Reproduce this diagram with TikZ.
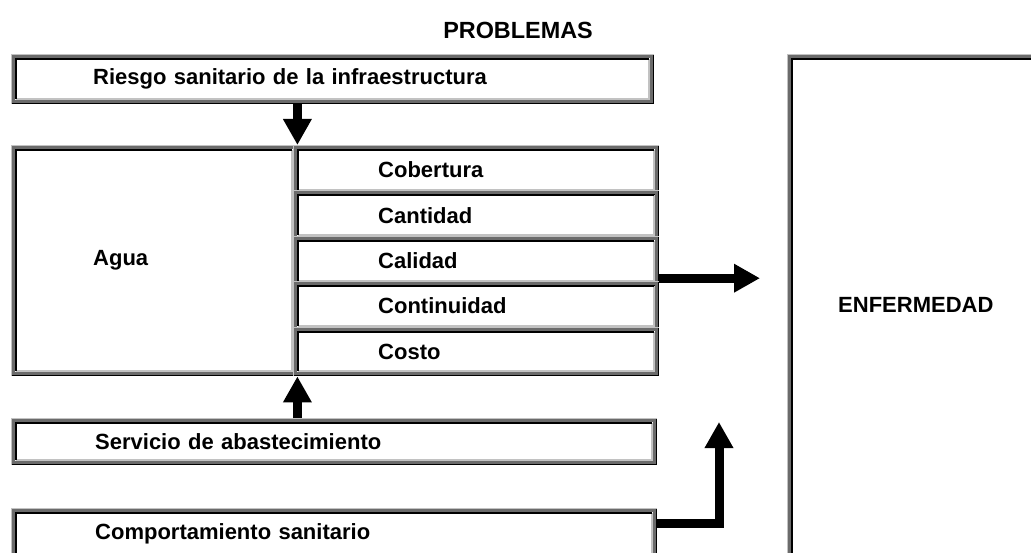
\documentclass[tikz,border=0pt]{standalone}
\usepackage{fontspec}
\setmainfont{Liberation Sans}
\usetikzlibrary{arrows.meta,calc}
\definecolor{dg}{gray}{0.42}
\definecolor{lg}{gray}{0.76}
\newcommand\bevelframe[1]{%
 \draw[dg,line width=3pt] ([xshift=2.5pt,yshift=-2.5pt]#1.north west) rectangle ([xshift=-2.5pt,yshift=2.5pt]#1.south east);
 \draw[black,line width=1pt] ([xshift=.5pt,yshift=.5pt]#1.south west) -| ([xshift=-.5pt,yshift=-.5pt]#1.north east);
 \draw[lg,line width=1pt] ([xshift=.5pt,yshift=.5pt]#1.south west) |- ([xshift=-.5pt,yshift=-.5pt]#1.north east);
 \draw[lg,line width=2pt] ([xshift=5pt,yshift=5pt]#1.south west) -| ([xshift=-5pt,yshift=-5pt]#1.north east);
 \draw[black,line width=2pt] ([xshift=5pt,yshift=5pt]#1.south west) |- ([xshift=-5pt,yshift=-5pt]#1.north east);
}
\tikzset{
 box/.style n args={4}{draw=none, rectangle, anchor=north west, inner xsep=#4, inner ysep=0pt,
   minimum width=#1, minimum height=#2, text width=#3, align=left,
   font=\bfseries\fontsize{22}{26}\selectfont},
 blockarrow/.style={line width=9pt, line join=miter, -{Triangle[width=27pt,length=26pt]}},
 titlestyle/.style={font=\bfseries\fontsize{23.4}{27}\selectfont, inner sep=0pt}
}
\begin{document}
\begin{tikzpicture}[x=1pt,y=-1pt]
\useasboundingbox (0,0) rectangle (1031,553);
\fill[white] (0,0) rectangle (1031,553);
\node[titlestyle] (title) at (518,30) {PROBLEMAS};
\node[box={643pt}{50pt}{479pt}{82pt}] (riesgo) at (11,54) {Riesgo sanitario de la infraestructura};
\node[box={286pt}{231pt}{122pt}{82pt}] (agua) at (11,145) {Agua};
\node[box={361pt}{49.4pt}{196pt}{85pt}] (cobertura) at (293,145) {Cobertura};
\node[box={361pt}{49.4pt}{196pt}{85pt}] (cantidad) at (293,190.4) {Cantidad};
\node[box={361pt}{49.4pt}{196pt}{85pt}] (calidad) at (293,235.8) {Calidad};
\node[box={361pt}{49.4pt}{196pt}{85pt}] (continuidad) at (293,281.2) {Continuidad};
\node[box={361pt}{49.4pt}{196pt}{85pt}] (costo) at (293,326.6) {Costo};
\node[box={642pt}{47pt}{478pt}{84pt}] (servicio) at (11,418) {Servicio de abastecimiento};
\node[box={642pt}{52pt}{478pt}{84pt}] (comport) at (11,508) {\raisebox{4pt}{Comportamiento sanitario}};
\node[box={258pt}{506pt}{156pt}{51pt}] (enf) at (787,54) {\raisebox{5pt}{ENFERMEDAD}};
\foreach \n in {riesgo,agua,cobertura,cantidad,calidad,continuidad,costo,servicio,comport,enf}{\bevelframe{\n}}
\draw[blockarrow] (riesgo.south -| agua.north east) -- (agua.north east);
\draw[blockarrow] (servicio.north -| agua.south east) -- (agua.south east);
\coordinate (rs) at ([yshift=-17.5pt]calidad.east);
\coordinate (re) at ($(enf.west |- rs)+(-27,0)$);
\draw[blockarrow] (rs) -- (re);
\coordinate (es) at ([yshift=10.5pt]comport.east);
\coordinate (etip) at (719,422);
\draw[blockarrow] (es) -| (etip);
\end{tikzpicture}
\end{document}
